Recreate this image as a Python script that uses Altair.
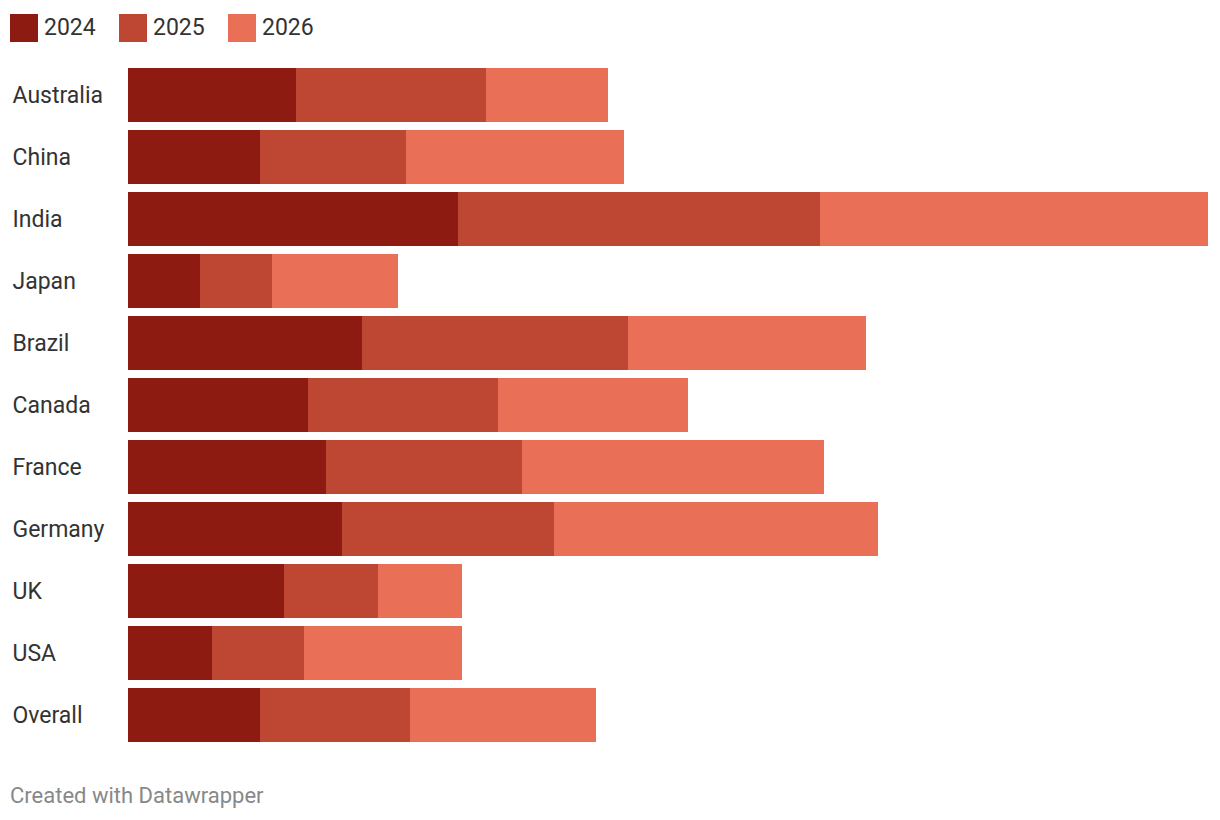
import altair as alt
import pandas as pd

countries = ["Australia", "China", "India", "Japan", "Brazil", "Canada",
             "France", "Germany", "UK", "USA", "Overall"]
years = ["2024", "2025", "2026"]
v2024 = [16.8, 13.2, 33.0, 7.2, 23.4, 18.0, 19.8, 21.4, 15.6, 8.4, 13.2]
v2025 = [19.0, 14.6, 36.2, 7.2, 26.6, 19.0, 19.6, 21.2, 9.4, 9.2, 15.0]
v2026 = [12.2, 21.8, 38.8, 12.6, 23.8, 19.0, 30.2, 32.4, 8.4, 15.8, 18.6]
colors = ["#8E1B12", "#BE4733", "#EA6F57"]

rows = []
for i, c in enumerate(countries):
    for j, (y, vals) in enumerate(zip(years, [v2024, v2025, v2026])):
        rows.append({"country": c, "year": y, "value": vals[i], "ord": j})
df = pd.DataFrame(rows)

chart = alt.Chart(df).mark_bar(size=54).encode(
    y=alt.Y("country:N", sort=countries,
            scale=alt.Scale(paddingInner=8/62, paddingOuter=0),
            axis=alt.Axis(title=None, labelAlign="left", labelPadding=116,
                          ticks=False, tickSize=0, domain=False,
                          labelFontSize=23, labelColor="#333333",
                          labelFont="Roboto", labelOffset=1)),
    x=alt.X("value:Q", stack="zero",
            scale=alt.Scale(domain=[0, 108], nice=False, zero=True),
            axis=None),
    color=alt.Color("year:N", sort=years,
                    scale=alt.Scale(domain=years, range=colors),
                    legend=alt.Legend(title=None, orient="none", direction="horizontal",
                                      legendX=-118, legendY=-54,
                                      symbolType="square", symbolSize=784,
                                      symbolStrokeWidth=0, symbolOpacity=1,
                                      labelFontSize=23, labelFont="Roboto",
                                      labelColor="#333333", labelOffset=6,
                                      columnPadding=23)),
    order=alt.Order("ord:Q"),
).properties(
    width=1080, height=674,
    title=alt.TitleParams("Created with Datawrapper", orient="bottom", anchor="start",
                          dx=0, offset=44, fontSize=22, font="Roboto",
                          fontWeight="normal", color="#888888"),
    autosize=alt.AutoSizeParams(type="none"),
    padding={"left": 128, "top": 68, "right": 12, "bottom": 78},
    background="white",
).configure_view(strokeWidth=0)

chart.save("out.html", embed_options={"renderer": "svg", "actions": False})
